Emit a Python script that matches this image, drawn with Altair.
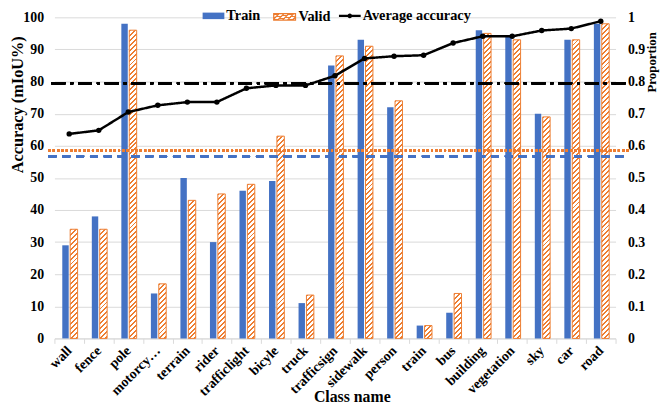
import altair as alt
import pandas as pd

classes = ["wall", "fence", "pole", "motorcy…", "terrain", "rider", "trafficlight", "bicyle",
           "truck", "trafficsign", "sidewalk", "person", "train", "bus", "building",
           "vegetation", "sky", "car", "road"]
train_vals = [29, 38, 98, 14, 50, 30, 46, 49, 11, 85, 93, 72, 4, 8, 96, 94, 70, 93, 98]
valid_vals = [34, 34, 96, 17, 43, 45, 48, 63, 13.5, 88, 91, 74, 4, 14, 95, 93, 69, 93, 98]
avg_acc = [0.637, 0.648, 0.705, 0.726, 0.736, 0.736, 0.779, 0.788, 0.788, 0.818, 0.872,
           0.879, 0.882, 0.92, 0.941, 0.941, 0.959, 0.965, 0.988]
series_names = ["Train", "Valid", "Average accuracy"]
ref_avg_line = 79.5      # dash-dot black
ref_valid_mean = 58.5    # dotted orange
ref_train_mean = 56.7    # dashed blue

BLUE = "#4472C4"
ORANGE = "#ED7D31"
FONT = "Liberation Serif"
W, H = 568, 325

df = pd.DataFrame({"cls": classes, "train": train_vals, "valid": valid_vals, "avg": avg_acc})

x_enc = alt.X("cls:N", sort=classes, title="Class name",
              scale=alt.Scale(paddingInner=0, paddingOuter=0),
              axis=alt.Axis(labelAngle=-45, labelAlign="right", labelBaseline="middle",
                            labelFontSize=14, labelFontWeight="bold", labelColor="black",
                            labelPadding=5, tickBand="extent", tickSize=5, tickColor="#D9D9D9",
                            domainColor="#D9D9D9", grid=False,
                            titleFontSize=16, titleFontWeight="bold", titleColor="black",
                            titleX=301, titleY=64, titleAlign="center", titleBaseline="alphabetic"))

y_axis = alt.Axis(values=list(range(0, 101, 10)), grid=True, gridColor="#D9D9D9",
                  domain=False, ticks=False, labelPadding=11, labelFontSize=14,
                  labelFontWeight="bold", labelColor="black",
                  title="Accuracy (mIoU%)", titleFontSize=16.5, titleFontWeight="bold",
                  titleColor="black", titleAngle=270, titleX=-32, titleY=88,
                  titleAlign="center", titleBaseline="alphabetic")
y_scale = alt.Scale(domain=[0, 100], nice=False)

# legend symbol paths
train_path = "M-1,-0.3H1V0.3H-1Z"
segs = ["M-1,-0.3H1V0.3H-1Z"]
x0 = -1.55
while x0 < 1.0:
    s0 = max(0.0, -1 - x0)
    s1 = min(0.6, 1 - x0)
    if s1 > s0:
        segs.append("M%.3f,%.3fL%.3f,%.3f" % (x0 + s0, 0.3 - s0, x0 + s1, 0.3 - s1))
    x0 += 0.45
valid_path = "".join(segs)
avg_path = ("M-1,-0.1H1V0.1H-1Z"
            "M0.22,0A0.22,0.22,0,1,1,-0.22,0A0.22,0.22,0,1,1,0.22,0Z")

legend_common = dict(orient="none", legendY=-12.5, direction="horizontal", title=None,
                     padding=0, labelFont=FONT, labelFontSize=14.5, labelFontWeight="bold",
                     labelColor="black", symbolSize=484, labelOffset=2)

base = alt.Chart(df)

train_bars = base.transform_calculate(series="'Train'").mark_bar(
    width=6.5, xOffset=-3.75
).encode(
    x=x_enc,
    y=alt.Y("train:Q", scale=y_scale, axis=y_axis),
    color=alt.Color("series:N", scale=alt.Scale(domain=[series_names[0]], range=[BLUE]),
                    legend=alt.Legend(legendX=150, symbolType=train_path,
                                      symbolStrokeWidth=0, **legend_common)),
)


def hatch_gradient(h, w=7.5, period=5.0, stripe=2.0):
    L = w + h
    alpha = L / (w * w + h * h)
    stops = [alt.GradientStop(color="white", offset=0)]
    a = 0.0
    while a < L:
        b = min(a + stripe, L)
        stops += [alt.GradientStop(color="white", offset=a / L),
                  alt.GradientStop(color=ORANGE, offset=a / L),
                  alt.GradientStop(color=ORANGE, offset=b / L),
                  alt.GradientStop(color="white", offset=b / L)]
        a += period
    stops.append(alt.GradientStop(color="white", offset=1))
    return alt.LinearGradient(gradient="linear", stops=stops, x1=0, y1=0,
                              x2=w * alpha, y2=h * alpha)


valid_layers = []
for name, v in zip(classes, valid_vals):
    valid_layers.append(
        base.transform_filter(alt.datum.cls == name).transform_calculate(series="'Valid'").mark_bar(
            width=7.5, xOffset=4.75, fill=hatch_gradient(v * H / 100.0), strokeWidth=1
        ).encode(
            x=x_enc, y=alt.Y("valid:Q", scale=y_scale, axis=y_axis),
            stroke=alt.Stroke("series:N", scale=alt.Scale(domain=[series_names[1]], range=[ORANGE]),
                              legend=alt.Legend(legendX=221, symbolType=valid_path,
                                                symbolFillColor="white", symbolStrokeWidth=1.3,
                                                **legend_common)),
        )
    )

rule_black = base.mark_rule(color="black", strokeWidth=2, strokeDash=[14, 5, 3, 5]).encode(
    x=alt.value(-3), x2=alt.value(580), y=alt.datum(ref_avg_line, scale=y_scale, axis=y_axis))
rule_orange = base.mark_rule(color=ORANGE, strokeWidth=2.5, strokeDash=[2, 2.4]).encode(
    x=alt.value(-6), x2=alt.value(582), y=alt.datum(ref_valid_mean, scale=y_scale, axis=y_axis))
rule_blue = base.mark_rule(color=BLUE, strokeWidth=2, strokeDash=[8, 6]).encode(
    x=alt.value(-6), x2=alt.value(582), y=alt.datum(ref_train_mean, scale=y_scale, axis=y_axis))

left = alt.layer(train_bars, *valid_layers, rule_black, rule_orange, rule_blue)

line = base.transform_calculate(series="'Average accuracy'").mark_line(
    color="black", strokeWidth=2.5,
    point=alt.OverlayMarkDef(filled=True, color="black", size=30)
).encode(
    x=x_enc,
    y=alt.Y("avg:Q", scale=alt.Scale(domain=[0, 1], nice=False),
            axis=alt.Axis(orient="right", values=[i / 10 for i in range(11)], format=".1~f",
                          grid=False, domain=False, ticks=False, labelPadding=12,
                          labelFontSize=14, labelFontWeight="bold", labelColor="black",
                          title="Proportion", titleFontSize=13, titleFontWeight="bold",
                          titleColor="black", titleAngle=270, titleX=40, titleY=45,
                          titleAlign="center", titleBaseline="alphabetic")),
    strokeDash=alt.StrokeDash("series:N",
                              scale=alt.Scale(domain=[series_names[2]], range=[[1, 0]]),
                              legend=alt.Legend(legendX=288, symbolType=avg_path,
                                                symbolFillColor="black", symbolStrokeColor="black",
                                                symbolStrokeWidth=0, **legend_common)),
)

chart = alt.layer(left, line).resolve_scale(y="independent").properties(
    width=W, height=H,
    autosize=alt.AutoSizeParams(type="none"),
    padding={"left": 47, "top": 7, "right": 46, "bottom": 70},
).configure_view(strokeWidth=0).configure_axis(
    labelFont=FONT, titleFont=FONT
).configure_legend(labelFont=FONT)

chart.save("out.html", embed_options={"renderer": "svg", "actions": False})
